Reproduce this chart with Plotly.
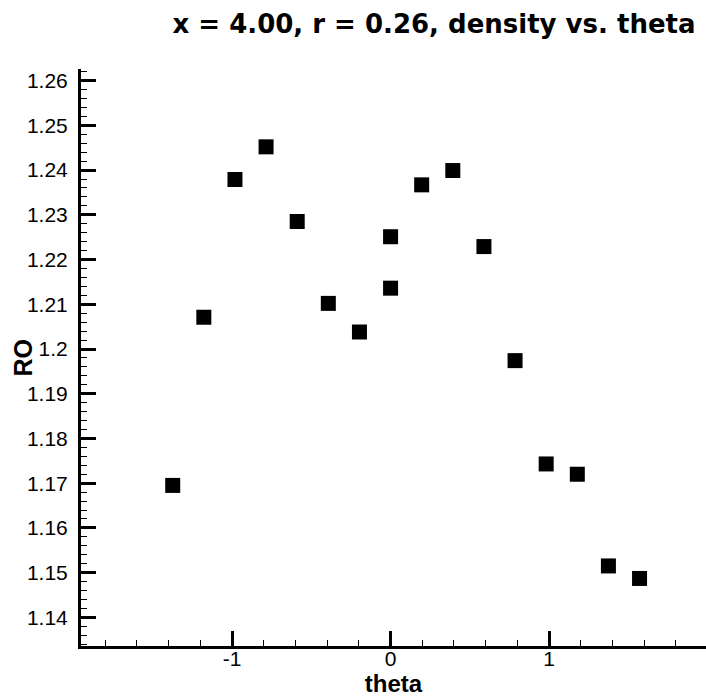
import plotly.graph_objects as go

# theta sampled at k*pi/16, k = -7..8 (theta = 0 measured twice)
theta = [-1.3744, -1.1781, -0.9817, -0.7854, -0.5890, -0.3927, -0.1963,
         0.0, 0.0, 0.1963, 0.3927, 0.5890, 0.7854, 0.9817, 1.1781,
         1.3744, 1.5708]
density = [1.1695, 1.2071, 1.2379, 1.2452, 1.2285, 1.2102, 1.2038,
           1.2251, 1.2136, 1.2367, 1.2399, 1.2229, 1.1974, 1.1743, 1.1720,
           1.1515, 1.1487]

y_ticks = [1.14, 1.15, 1.16, 1.17, 1.18, 1.19, 1.20, 1.21, 1.22, 1.23,
           1.24, 1.25, 1.26]
y_labels = ["1.14", "1.15", "1.16", "1.17", "1.18", "1.19", "1.2", "1.21",
            "1.22", "1.23", "1.24", "1.25", "1.26"]
x_ticks = [-1, 0, 1]
x_labels = ["-1", "0", "1"]

FONT = "Liberation Sans, Arial, Helvetica, sans-serif"
WIDE_BOLD = "DejaVu Sans, Liberation Sans, Arial, sans-serif"

fig = go.Figure(
    go.Scatter(
        x=theta,
        y=density,
        mode="markers",
        marker=dict(symbol="square", size=15, color="black",
                    line=dict(width=0)),
        showlegend=False,
    )
)

axis_common = dict(
    showgrid=False,
    zeroline=False,
    showline=True,
    linecolor="black",
    linewidth=3,
    ticks="inside",
    ticklen=15,
    tickwidth=3,
    tickcolor="black",
    tickfont=dict(family=FONT, size=21, color="black"),
    mirror=False,
)

fig.update_xaxes(
    **axis_common,
    range=[-1.953, 1.99],
    tickvals=x_ticks,
    ticktext=x_labels,
    minor=dict(dtick=0.2, tick0=0, ticks="inside", ticklen=6, tickwidth=1,
               tickcolor="black"),
    ticklabelstandoff=-8,
    title=dict(text="<b>theta</b>", font=dict(family=FONT, size=24,
                                               color="black"), standoff=0),
)

fig.update_yaxes(
    **axis_common,
    range=[1.1336, 1.2626],
    tickvals=y_ticks,
    ticktext=y_labels,
    minor=dict(dtick=0.002, tick0=1.14, ticks="inside", ticklen=6,
               tickwidth=1, tickcolor="black"),
    ticklabelstandoff=6,
)

fig.update_layout(
    width=706,
    height=700,
    margin=dict(l=81, r=0, t=69, b=54),
    paper_bgcolor="white",
    plot_bgcolor="white",
    title=dict(
        text="<b>x = 4.00, r = 0.26, density vs. theta</b>",
        font=dict(family=WIDE_BOLD, size=26, color="black"),
        xref="container", x=434 / 706, xanchor="center",
        yref="container", y=1 - 24 / 700, yanchor="middle",
    ),
    annotations=[
        dict(
            text="<b>RO</b>",
            textangle=-90,
            font=dict(family=FONT, size=25, color="black"),
            xref="paper", x=-81 / 625 + 22 / 625, xanchor="center",
            yref="paper", y=0.5, yanchor="middle",
            showarrow=False,
        )
    ],
)

fig.write_html("out.html")
